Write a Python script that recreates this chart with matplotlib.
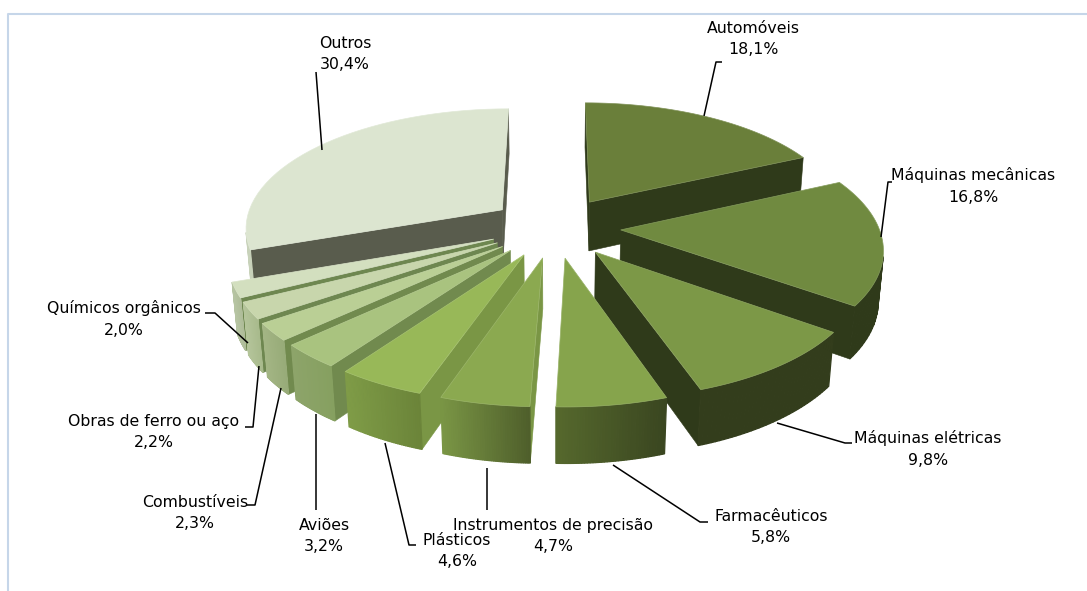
import numpy as np
import matplotlib
matplotlib.use('Agg')
import matplotlib.pyplot as plt
from matplotlib.patches import Polygon
from matplotlib.colors import to_rgb

# dados
categorias = ['Automóveis', 'Máquinas mecânicas', 'Máquinas elétricas', 'Farmacêuticos',
              'Instrumentos de precisão', 'Plásticos', 'Aviões', 'Combustíveis',
              'Obras de ferro ou aço', 'Químicos orgânicos', 'Outros']
valores = [18.1, 16.8, 9.8, 5.8, 4.7, 4.6, 3.2, 2.3, 2.2, 2.0, 30.4]

cor_topo = ['#6a7f3a', '#708a40', '#7c9847', '#86a44c', '#8ba950', '#98b858',
            '#a9c37f', '#bacf95', '#c8d6ac', '#d3dfbf', '#dce5d0']
cor_lado = ['#2f3a1a', '#2f3a1a', '#2f3a1a', '#2f3a1a', '#7a9645', '#7a9645',
            '#718a4e', '#718a4e', '#6e8750', '#6e8750', '#595c4d']
cor_arco_ini = ['#2f3a1a', '#2f3a1a', '#333d1c', '#56692d', '#7a9645', '#7f9c47',
                '#8da46a', '#a3b584', '#b4c49a', '#b6c4a2', '#c8d2ba']
cor_arco_fim = ['#2f3a1a', '#2f3a1a', '#333d1c', '#3a4620', '#4f5f2b', '#6b8439',
                '#86a060', '#97ab78', '#a8ba8c', '#aebc98', '#c8d2ba']

# posicao dos textos e linhas de chamada (pixels)
pos_texto = [(753, 39), (973, 186), (928, 449), (771, 527), (553, 536), (457, 551),
             (324, 536), (195, 513), (154, 432), (124, 319), (345, 54)]
chamadas = [[(704, 116), (716, 62), (722, 62)],
            [(881, 237), (888, 182), (892, 182)],
            [(777, 423), (845, 443), (852, 443)],
            [(613, 465), (700, 522), (708, 522)],
            [(487, 468), (487, 510)],
            [(385, 443), (409, 545), (416, 545)],
            [(316, 414), (316, 510)],
            [(281, 388), (255, 505), (247, 505)],
            [(259, 366), (253, 427), (245, 427)],
            [(248, 343), (215, 313), (205, 313)],
            [(322, 150), (316, 72)]]

# camera
CX, CY = 555, 227
RAIO = 258
ELEV = np.radians(27.5)
DIST = 6.5
ALTURA = 0.221
EXPLODE = 0.255


def proj(x, y, z):
    v = y * np.sin(ELEV) + z * np.cos(ELEV)
    w = y * np.cos(ELEV) - z * np.sin(ELEV)
    s = DIST / (DIST + w)
    return CX + RAIO * x * s, CY - RAIO * v * s


def ponto(ox, oy, ang, r, z):
    return proj(ox + r * np.sin(ang), oy + r * np.cos(ang), z)


def area(pts):
    p = np.array(pts)
    return 0.5 * np.sum(p[:, 0] * np.roll(p[:, 1], -1) - np.roll(p[:, 0], -1) * p[:, 1])


def misturar(c1, c2, t):
    a, b = np.array(to_rgb(c1)), np.array(to_rgb(c2))
    return tuple(a + (b - a) * t)


fig = plt.figure(figsize=(10.87, 5.91), dpi=100)
ax = fig.add_axes([0, 0, 1, 1])
ax.set_xlim(0, 1087)
ax.set_ylim(591, 0)
ax.axis('off')

# moldura
ax.plot([8, 8, 1087], [591, 14, 14], color='#c6d6e9', lw=1.5)

total = sum(valores)
fatias = []
acum = 0
for i, val in enumerate(valores):
    a0 = 2 * np.pi * acum / total
    a1 = 2 * np.pi * (acum + val) / total
    acum += val
    fatias.append((i, a0, a1))

# de tras para frente
fatias.sort(key=lambda f: -np.cos((f[1] + f[2]) / 2))

for i, a0, a1 in fatias:
    meio = (a0 + a1) / 2
    ox, oy = EXPLODE * np.sin(meio), EXPLODE * np.cos(meio)
    angs = np.linspace(a0, a1, 40)
    centro_t = ponto(ox, oy, 0, 0, 0)
    centro_b = ponto(ox, oy, 0, 0, -ALTURA)

    # faces radiais
    for ang, sinal in ((a0, 1), (a1, -1)):
        face = [centro_t, ponto(ox, oy, ang, 1, 0), ponto(ox, oy, ang, 1, -ALTURA), centro_b]
        if sinal * area(face) < 0:
            ax.add_patch(Polygon(face, closed=True, fc=cor_lado[i], ec=cor_lado[i], lw=0.4))

    # parede externa com degrade (esquerda para direita)
    xs = [ponto(ox, oy, a, 1, 0)[0] for a in angs]
    xmin, xmax = min(xs), max(xs)
    for a, b in zip(angs[:-1], angs[1:]):
        quad = [ponto(ox, oy, a, 1, 0), ponto(ox, oy, b, 1, 0),
                ponto(ox, oy, b, 1, -ALTURA), ponto(ox, oy, a, 1, -ALTURA)]
        if area(quad) < 0:
            t = (quad[0][0] - xmin) / max(xmax - xmin, 1)
            c = misturar(cor_arco_ini[i], cor_arco_fim[i], t)
            ax.add_patch(Polygon(quad, closed=True, fc=c, ec=c, lw=0.9))

    # topo
    topo = [centro_t] + [ponto(ox, oy, a, 1, 0) for a in angs]
    ax.add_patch(Polygon(topo, closed=True, fc=cor_topo[i], ec=misturar(cor_topo[i], '#ffffff', 0.15), lw=0.5))

for linha in chamadas:
    px, py = zip(*linha)
    ax.plot(px, py, color='black', lw=1.1, solid_capstyle='butt')

for nome, val, (tx, ty) in zip(categorias, valores, pos_texto):
    rotulo = nome + '\n' + f'{val:.1f}'.replace('.', ',') + '%'
    ax.text(tx, ty, rotulo, ha='center', va='center', fontsize=11.3, family='DejaVu Sans',
            color='black', linespacing=1.52)

fig.savefig('out.png', dpi=100)
